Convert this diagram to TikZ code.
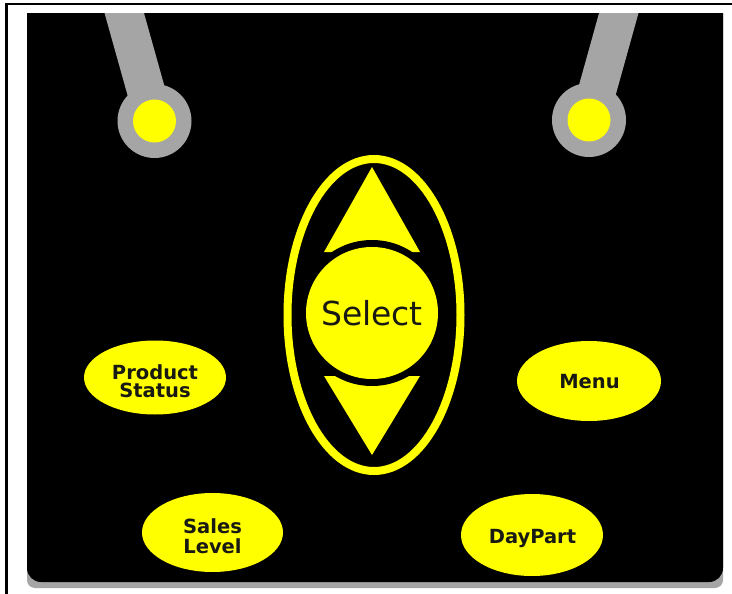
\documentclass[tikz,border=0pt]{standalone}
\usepackage{fontspec}
\setmainfont{DejaVu Sans}
\usetikzlibrary{shapes.geometric}
\definecolor{btnyellow}{RGB}{255,255,0}
\definecolor{pivgray}{RGB}{165,165,165}
\definecolor{txtdark}{RGB}{25,25,20}
\begin{document}
\begin{tikzpicture}[x=1pt,y=-1pt,
  btn/.style={ellipse, fill=btnyellow, inner sep=0pt},
  lbl/.style={anchor=base, text=txtdark, font=\fontsize{19.5}{19.5}\selectfont\bfseries, inner sep=0pt},
  pivring/.style={circle, fill=pivgray, minimum size=74pt, inner sep=0pt},
  pivlamp/.style={circle, fill=btnyellow, minimum size=43pt, inner sep=0pt},
  stem/.style={draw=pivgray, line width=38pt},
]
\useasboundingbox (0,0) rectangle (732,594);
\fill[white] (0,0) rectangle (732,594);
\draw[line width=2.5pt] (6.5,594) -- (6.5,4) -- (732,4);
% panel
\begin{scope}
  \clip (27,14) rectangle (723,594);
  \fill[pivgray, rounded corners=8pt] (27,-20) rectangle (723,588);
  \fill[black, rounded corners=14pt] (27,-20) rectangle (723,582);
  \coordinate (pivLc) at (154.5,121);
  \coordinate (pivRc) at (589,120);
  \coordinate (stemLtop) at (117.8,-10);
  \coordinate (stemRtop) at (625.2,-10);
  \draw[stem] (stemLtop) -- (pivLc);
  \draw[stem] (stemRtop) -- (pivRc);
\end{scope}
\node[pivring] (pivL) at (pivLc) {};
\node[pivlamp] (lampL) at (pivLc) {};
\node[pivring] (pivR) at (pivRc) {};
\node[pivlamp] (lampR) at (pivRc) {};
% select assembly
\node[ellipse, draw=btnyellow, line width=8pt, minimum width=173pt, minimum height=312pt, inner sep=0pt] (ring) at (374,315) {};
\fill[btnyellow] (372,167) -- (324,252) -- (420,252) -- cycle;
\fill[btnyellow] (372,455) -- (324,376) -- (420,376) -- cycle;
\fill[black] (372,313) circle[radius=73pt];
\node[circle, fill=btnyellow, minimum size=132pt, inner sep=0pt, text=txtdark, font=\fontsize{33}{33}\selectfont] (select) at (372,313) {Select};
% buttons
\node[btn, minimum width=142pt, minimum height=74pt] (ps) at (155,377.5) {};
\node[lbl] (psA) at (155,379.5) {Product};
\node[lbl] (psB) at (155,397.5) {Status};
\node[btn, minimum width=144pt, minimum height=80pt] (menu) at (589,381) {};
\node[lbl] (menuL) at (589.5,388) {Menu};
\node[btn, minimum width=141pt, minimum height=79pt] (sl) at (212.5,532.5) {};
\node[lbl] (slA) at (212.5,533) {Sales};
\node[lbl] (slB) at (212.5,553) {Level};
\node[btn, minimum width=142pt, minimum height=82pt] (dp) at (532,535) {};
\node[lbl] (dpL) at (532.5,543) {DayPart};
\end{tikzpicture}
\end{document}
